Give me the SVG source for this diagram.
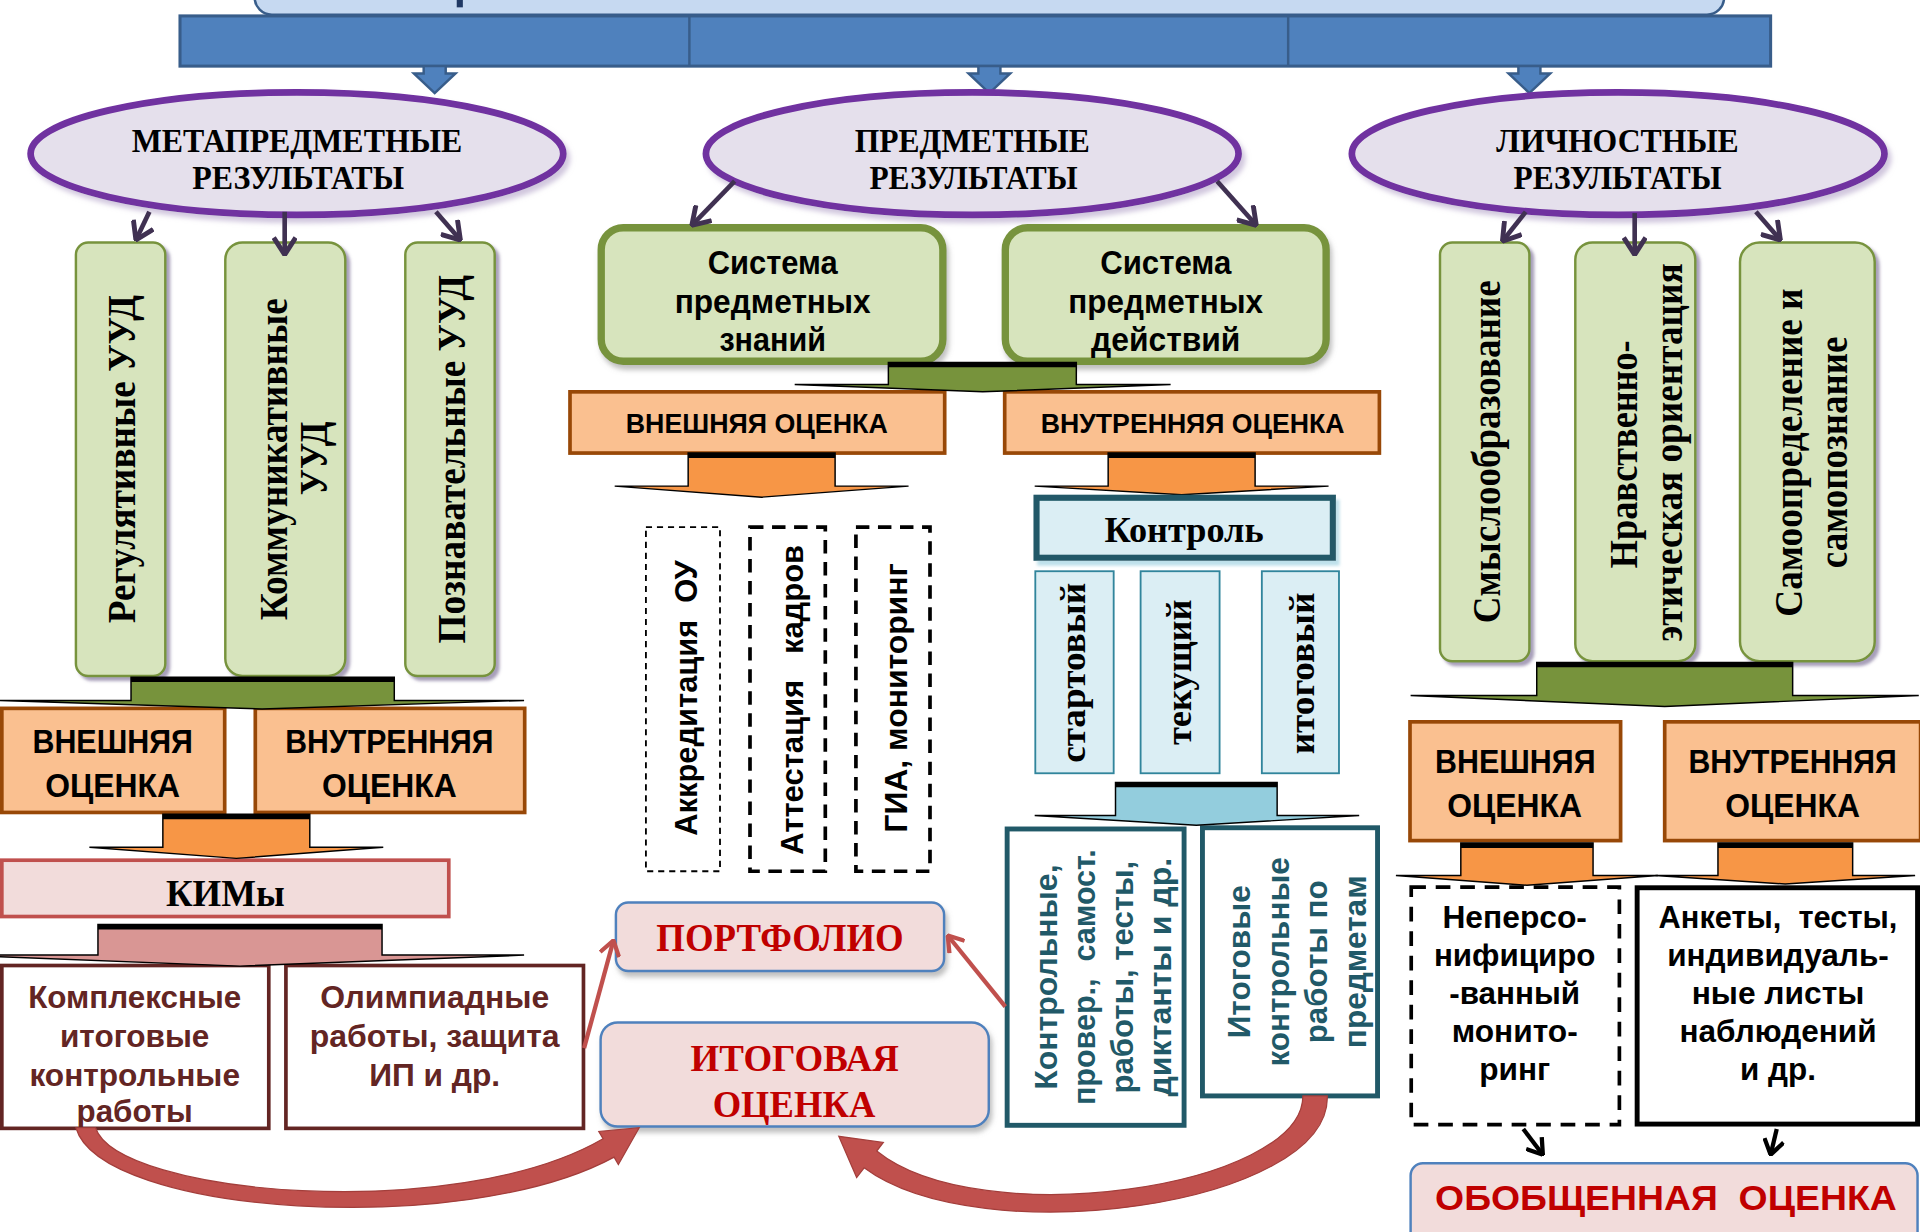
<svg xmlns="http://www.w3.org/2000/svg" width="1920" height="1232" viewBox="0 0 1920 1232">
<defs>
<style>
.serif{font-family:"Liberation Serif","Times New Roman",serif;font-weight:bold}
.sans{font-family:"Liberation Sans",Arial,sans-serif;font-weight:bold}
.ell{fill:#e5e0ec;stroke:#7030a0;stroke-width:5.5}
.gv{fill:#d7e4bd;stroke:#77933c;stroke-width:2}
.gs{fill:#d7e4bd;stroke:#77933c;stroke-width:6}
.or{fill:#fac090;stroke:#984807;stroke-width:3}
.ba{stroke:#000;stroke-width:1.2}
.top{stroke:#000;stroke-width:4}
.pc{stroke:#403152;stroke-width:3.8;fill:none;marker-end:url(#mp)}
.rc{stroke:#c0504d;stroke-width:3.5;fill:none;marker-end:url(#mr)}
.kc{stroke:#000;stroke-width:3.5;fill:none;marker-end:url(#mk)}
.br{fill:#fff;stroke:#632523;stroke-width:3}
.brt{fill:#632523}
.tl{fill:#fff;stroke:#215968;stroke-width:4}
.tlt{fill:#215968}
.sm{fill:#dbeef4;stroke:#31859c;stroke-width:1.5}
.pk{fill:#f2dcdb;stroke:#4f81bd;stroke-width:2}
.red{fill:#c00000}
.pre{white-space:pre}
</style>
<marker id="mp" viewBox="0 0 16 20" refX="15" refY="10" markerWidth="16" markerHeight="20" markerUnits="userSpaceOnUse" orient="auto"><path d="M1,1 L15,10 L1,19" fill="none" stroke="#403152" stroke-width="4"/></marker>
<marker id="mr" viewBox="0 0 14 18" refX="13" refY="9" markerWidth="14" markerHeight="18" markerUnits="userSpaceOnUse" orient="auto"><path d="M1,1 L13,9 L1,17" fill="none" stroke="#c0504d" stroke-width="3.5"/></marker>
<marker id="mk" viewBox="0 0 14 18" refX="13" refY="9" markerWidth="14" markerHeight="18" markerUnits="userSpaceOnUse" orient="auto"><path d="M1,1 L13,9 L1,17" fill="none" stroke="#000" stroke-width="3.5"/></marker>
<filter id="shG" x="-20%" y="-10%" width="140%" height="120%"><feDropShadow dx="3" dy="3" stdDeviation="1.2" flood-color="#5f4f80" flood-opacity="0.55"/></filter>
<filter id="shE" x="-10%" y="-20%" width="120%" height="140%"><feDropShadow dx="3" dy="4" stdDeviation="2" flood-color="#b2a1c7" flood-opacity="0.6"/></filter>
<filter id="shB" x="-10%" y="-20%" width="120%" height="140%"><feDropShadow dx="2" dy="4" stdDeviation="2" flood-color="#808080" flood-opacity="0.5"/></filter>
<filter id="shC" x="-10%" y="-20%" width="120%" height="150%"><feDropShadow dx="3" dy="4" stdDeviation="1.5" flood-color="#b7dde8" flood-opacity="0.9"/></filter>
</defs>
<rect width="1920" height="1232" fill="#fff"/>
<g transform="scale(1.22449)">

<g id="title">
<rect x="208" y="-30" width="1200" height="42" rx="14" fill="#c6d9f1" stroke="#385d8a" stroke-width="2"/>
<rect x="373" y="0" width="5" height="6" fill="#1f3864"/>
</g>

<g id="bar">
<rect x="147" y="13" width="1299" height="41" fill="#4f81bd" stroke="#385d8a" stroke-width="2.5"/>
<line x1="563" y1="13" x2="563" y2="54" stroke="#385d8a" stroke-width="2"/>
<line x1="1052" y1="13" x2="1052" y2="54" stroke="#385d8a" stroke-width="2"/>
<polygon points="346,54 364,54 364,60 372,60 355,76 338,60 346,60" fill="#4f81bd" stroke="#385d8a" stroke-width="2"/>
<polygon points="799,54 817,54 817,60 825,60 808,76 791,60 799,60" fill="#4f81bd" stroke="#385d8a" stroke-width="2"/>
<polygon points="1240,54 1258,54 1258,60 1266,60 1249,76 1232,60 1240,60" fill="#4f81bd" stroke="#385d8a" stroke-width="2"/>
</g>

<g id="ell-meta">
<ellipse cx="242.5" cy="125.5" rx="217.5" ry="50" class="ell" filter="url(#shE)"/>
<text x="242.5" y="124" text-anchor="middle" class="serif" font-size="28" textLength="270" lengthAdjust="spacingAndGlyphs">МЕТАПРЕДМЕТНЫЕ</text>
<text x="243.5" y="154" text-anchor="middle" class="serif" font-size="28" textLength="173" lengthAdjust="spacingAndGlyphs">РЕЗУЛЬТАТЫ</text>
</g>
<g id="ell-pred">
<ellipse cx="794" cy="125.5" rx="217.5" ry="50" class="ell" filter="url(#shE)"/>
<text x="794" y="124" text-anchor="middle" class="serif" font-size="28" textLength="192" lengthAdjust="spacingAndGlyphs">ПРЕДМЕТНЫЕ</text>
<text x="795" y="154" text-anchor="middle" class="serif" font-size="28" textLength="170" lengthAdjust="spacingAndGlyphs">РЕЗУЛЬТАТЫ</text>
</g>
<g id="ell-lich">
<ellipse cx="1321.5" cy="125.5" rx="217.5" ry="50" class="ell" filter="url(#shE)"/>
<text x="1321" y="124" text-anchor="middle" class="serif" font-size="28" textLength="198" lengthAdjust="spacingAndGlyphs">ЛИЧНОСТНЫЕ</text>
<text x="1321" y="154" text-anchor="middle" class="serif" font-size="28" textLength="170" lengthAdjust="spacingAndGlyphs">РЕЗУЛЬТАТЫ</text>
</g>

<g id="reg-uud">
<rect x="62" y="198" width="73" height="354" rx="10" class="gv" filter="url(#shG)"/>
<text transform="translate(110.3,375) rotate(-90)" text-anchor="middle" class="serif" font-size="32" textLength="268" lengthAdjust="spacingAndGlyphs">Регулятивные УУД</text>
</g>
<g id="kom-uud">
<rect x="184" y="198" width="98" height="354" rx="14" class="gv" filter="url(#shG)"/>
<text transform="translate(234,375) rotate(-90)" text-anchor="middle" class="serif" font-size="32" textLength="263" lengthAdjust="spacingAndGlyphs">Коммуникативные</text>
<text transform="translate(267,374.4) rotate(-90)" text-anchor="middle" class="serif" font-size="32" textLength="60" lengthAdjust="spacingAndGlyphs">УУД</text>
</g>
<g id="pozn-uud">
<rect x="331" y="198" width="73" height="354" rx="10" class="gv" filter="url(#shG)"/>
<text transform="translate(380,375) rotate(-90)" text-anchor="middle" class="serif" font-size="32" textLength="301" lengthAdjust="spacingAndGlyphs">Познавательные УУД</text>
</g>

<g id="left-ext">
<rect x="1.5" y="578.5" width="182" height="85" class="or"/>
<text x="92" y="615" text-anchor="middle" class="sans" font-size="27" textLength="131" lengthAdjust="spacingAndGlyphs">ВНЕШНЯЯ</text>
<text x="92" y="651" text-anchor="middle" class="sans" font-size="27" textLength="110" lengthAdjust="spacingAndGlyphs">ОЦЕНКА</text>
</g>
<g id="left-int">
<rect x="208.5" y="578.5" width="220" height="85" class="or"/>
<text x="318" y="615" text-anchor="middle" class="sans" font-size="27" textLength="170" lengthAdjust="spacingAndGlyphs">ВНУТРЕННЯЯ</text>
<text x="318" y="651" text-anchor="middle" class="sans" font-size="27" textLength="110" lengthAdjust="spacingAndGlyphs">ОЦЕНКА</text>
</g>
<g id="kim">
<rect x="1.5" y="702.5" width="365" height="46" fill="#f2dcdb" stroke="#c0504d" stroke-width="3"/>
<text x="184" y="740" text-anchor="middle" class="serif" font-size="31" textLength="97" lengthAdjust="spacingAndGlyphs">КИМы</text>
</g>
<g id="kompleks">
<rect x="1.5" y="788.5" width="218" height="133" class="br"/>
<text x="110" y="823" text-anchor="middle" class="sans brt" font-size="26" textLength="174" lengthAdjust="spacingAndGlyphs">Комплексные</text>
<text x="110" y="855" text-anchor="middle" class="sans brt" font-size="26" textLength="122" lengthAdjust="spacingAndGlyphs">итоговые</text>
<text x="110" y="887" text-anchor="middle" class="sans brt" font-size="26" textLength="172" lengthAdjust="spacingAndGlyphs">контрольные</text>
<text x="110" y="916" text-anchor="middle" class="sans brt" font-size="26" textLength="95" lengthAdjust="spacingAndGlyphs">работы</text>
</g>
<g id="olimp">
<rect x="233.5" y="788.5" width="243" height="133" class="br"/>
<text x="355" y="823" text-anchor="middle" class="sans brt" font-size="26" textLength="187" lengthAdjust="spacingAndGlyphs">Олимпиадные</text>
<text x="355" y="855" text-anchor="middle" class="sans brt" font-size="26" textLength="204" lengthAdjust="spacingAndGlyphs">работы, защита</text>
<text x="355" y="887" text-anchor="middle" class="sans brt" font-size="26" textLength="107" lengthAdjust="spacingAndGlyphs">ИП и др.</text>
</g>

<g id="sys-znan">
<rect x="491" y="186" width="279" height="109" rx="18" class="gs" filter="url(#shB)"/>
<text x="631" y="224" text-anchor="middle" class="sans" font-size="26.5" textLength="106" lengthAdjust="spacingAndGlyphs">Система</text>
<text x="631" y="256" text-anchor="middle" class="sans" font-size="26.5" textLength="160" lengthAdjust="spacingAndGlyphs">предметных</text>
<text x="631" y="287" text-anchor="middle" class="sans" font-size="26.5" textLength="87" lengthAdjust="spacingAndGlyphs">знаний</text>
</g>
<g id="sys-deist">
<rect x="821" y="186" width="262" height="109" rx="18" class="gs" filter="url(#shB)"/>
<text x="952" y="224" text-anchor="middle" class="sans" font-size="26.5" textLength="107" lengthAdjust="spacingAndGlyphs">Система</text>
<text x="952" y="256" text-anchor="middle" class="sans" font-size="26.5" textLength="159" lengthAdjust="spacingAndGlyphs">предметных</text>
<text x="952" y="287" text-anchor="middle" class="sans" font-size="26.5" textLength="122" lengthAdjust="spacingAndGlyphs">действий</text>
</g>
<g id="mid-ext">
<rect x="465.5" y="320" width="306" height="50" class="or"/>
<text x="618" y="354" text-anchor="middle" class="sans" font-size="23" textLength="214" lengthAdjust="spacingAndGlyphs">ВНЕШНЯЯ ОЦЕНКА</text>
</g>
<g id="mid-int">
<rect x="820.5" y="320" width="306" height="50" class="or"/>
<text x="974" y="354" text-anchor="middle" class="sans" font-size="23" textLength="248" lengthAdjust="spacingAndGlyphs">ВНУТРЕННЯЯ ОЦЕНКА</text>
</g>
<g id="akkred">
<rect x="527.5" y="430.5" width="60.5" height="281" fill="none" stroke="#000" stroke-width="1.5" stroke-dasharray="5 4"/>
<text transform="translate(569,570) rotate(-90)" text-anchor="middle" class="sans pre" font-size="26" textLength="225" lengthAdjust="spacingAndGlyphs">Аккредитация  ОУ</text>
</g>
<g id="attest">
<rect x="612.5" y="430.5" width="61.5" height="281" fill="none" stroke="#000" stroke-width="3" stroke-dasharray="11 7"/>
<text transform="translate(656,571.5) rotate(-90)" text-anchor="middle" class="sans pre" font-size="26" textLength="253" lengthAdjust="spacingAndGlyphs">Аттестация   кадров</text>
</g>
<g id="gia">
<rect x="699" y="430.5" width="60.5" height="281" fill="none" stroke="#000" stroke-width="3" stroke-dasharray="11 7"/>
<text transform="translate(741,570) rotate(-90)" text-anchor="middle" class="sans" font-size="26" textLength="220" lengthAdjust="spacingAndGlyphs">ГИА, мониторинг</text>
</g>
<g id="portfolio">
<rect x="503" y="737" width="268" height="56" rx="10" class="pk" filter="url(#shB)"/>
<text x="637" y="777" text-anchor="middle" class="serif red" font-size="33" textLength="202" lengthAdjust="spacingAndGlyphs">ПОРТФОЛИО</text>
</g>
<g id="itog">
<rect x="490.5" y="835" width="317" height="85" rx="14" class="pk" filter="url(#shB)"/>
<text x="649" y="875" text-anchor="middle" class="serif red" font-size="31" textLength="170" lengthAdjust="spacingAndGlyphs">ИТОГОВАЯ</text>
<text x="648.5" y="912" text-anchor="middle" class="serif red" font-size="31" textLength="133" lengthAdjust="spacingAndGlyphs">ОЦЕНКА</text>
</g>

<g id="arrow-under-kontrol">
<polygon points="905,370 1025,370 1025,397 1085,397 965,404 845,397 905,397" fill="#f79646" class="ba"/>
<line x1="905" y1="372" x2="1025" y2="372" class="top"/>
</g>

<g id="kontrol">
<rect x="846.5" y="406.5" width="242" height="49" fill="#dbeef4" stroke="#215968" stroke-width="5" filter="url(#shC)"/>
<text x="967" y="442.5" text-anchor="middle" class="serif" font-size="30" textLength="130" lengthAdjust="spacingAndGlyphs">Контроль</text>
</g>
<g id="start">
<rect x="845.5" y="466.5" width="64" height="165" class="sm"/>
<text transform="translate(886,549.5) rotate(-90)" text-anchor="middle" class="serif" font-size="29" textLength="147" lengthAdjust="spacingAndGlyphs">стартовый</text>
</g>
<g id="tekush">
<rect x="931.5" y="466.5" width="64.5" height="165" class="sm"/>
<text transform="translate(973,549) rotate(-90)" text-anchor="middle" class="serif" font-size="29" textLength="119" lengthAdjust="spacingAndGlyphs">текущий</text>
</g>
<g id="itogov">
<rect x="1030.5" y="466.5" width="63" height="165" class="sm"/>
<text transform="translate(1073,550) rotate(-90)" text-anchor="middle" class="serif" font-size="29" textLength="132" lengthAdjust="spacingAndGlyphs">итоговый</text>
</g>
<g id="kontr-raboty">
<rect x="822.5" y="677" width="144.5" height="242" class="tl"/>
<text transform="translate(863,798) rotate(-90)" text-anchor="middle" class="sans tlt" font-size="25.5" textLength="184" lengthAdjust="spacingAndGlyphs">Контрольные,</text>
<text transform="translate(894,798) rotate(-90)" text-anchor="middle" class="sans tlt pre" font-size="25.5" textLength="209" lengthAdjust="spacingAndGlyphs">провер.,  самост.</text>
<text transform="translate(925,798) rotate(-90)" text-anchor="middle" class="sans tlt" font-size="25.5" textLength="190" lengthAdjust="spacingAndGlyphs">работы, тесты,</text>
<text transform="translate(956,798) rotate(-90)" text-anchor="middle" class="sans tlt" font-size="25.5" textLength="195" lengthAdjust="spacingAndGlyphs">диктанты и др.</text>
</g>
<g id="itog-raboty">
<rect x="982" y="676" width="143" height="219" class="tl"/>
<text transform="translate(1021,785.5) rotate(-90)" text-anchor="middle" class="sans tlt" font-size="25.5" textLength="125" lengthAdjust="spacingAndGlyphs">Итоговые</text>
<text transform="translate(1052.5,785.5) rotate(-90)" text-anchor="middle" class="sans tlt" font-size="25.5" textLength="171" lengthAdjust="spacingAndGlyphs">контрольные</text>
<text transform="translate(1084,785.5) rotate(-90)" text-anchor="middle" class="sans tlt" font-size="25.5" textLength="133" lengthAdjust="spacingAndGlyphs">работы по</text>
<text transform="translate(1115.5,785.5) rotate(-90)" text-anchor="middle" class="sans tlt" font-size="25.5" textLength="141" lengthAdjust="spacingAndGlyphs">предметам</text>
</g>

<g id="smysl">
<rect x="1176" y="198" width="73" height="342" rx="10" class="gv" filter="url(#shG)"/>
<text transform="translate(1225,369) rotate(-90)" text-anchor="middle" class="serif" font-size="32" textLength="280" lengthAdjust="spacingAndGlyphs">Смыслообразование</text>
</g>
<g id="nravst">
<rect x="1286.5" y="198" width="98" height="342" rx="14" class="gv" filter="url(#shG)"/>
<text transform="translate(1336.6,371) rotate(-90)" text-anchor="middle" class="serif" font-size="32" textLength="186" lengthAdjust="spacingAndGlyphs">Нравственно-</text>
<text transform="translate(1373.4,369.6) rotate(-90)" text-anchor="middle" class="serif" font-size="32" textLength="309" lengthAdjust="spacingAndGlyphs">этическая ориентация</text>
</g>
<g id="samoopr">
<rect x="1421" y="198" width="110" height="342" rx="16" class="gv" filter="url(#shG)"/>
<text transform="translate(1472,369.6) rotate(-90)" text-anchor="middle" class="serif" font-size="32" textLength="268" lengthAdjust="spacingAndGlyphs">Самоопределение и</text>
<text transform="translate(1508,369.5) rotate(-90)" text-anchor="middle" class="serif" font-size="32" textLength="189" lengthAdjust="spacingAndGlyphs">самопознание</text>
</g>
<g id="right-ext">
<rect x="1151.5" y="589.5" width="172" height="97" class="or"/>
<text x="1237.5" y="631" text-anchor="middle" class="sans" font-size="27" textLength="131" lengthAdjust="spacingAndGlyphs">ВНЕШНЯЯ</text>
<text x="1237" y="667" text-anchor="middle" class="sans" font-size="27" textLength="110" lengthAdjust="spacingAndGlyphs">ОЦЕНКА</text>
</g>
<g id="right-int">
<rect x="1359.5" y="589.5" width="209" height="97" class="or"/>
<text x="1464" y="631" text-anchor="middle" class="sans" font-size="27" textLength="170" lengthAdjust="spacingAndGlyphs">ВНУТРЕННЯЯ</text>
<text x="1464" y="667" text-anchor="middle" class="sans" font-size="27" textLength="110" lengthAdjust="spacingAndGlyphs">ОЦЕНКА</text>
</g>
<g id="nepers">
<rect x="1152.5" y="724.5" width="170" height="194" fill="#fff" stroke="#000" stroke-width="3" stroke-dasharray="12 8"/>
<text x="1237" y="757.5" text-anchor="middle" class="sans" font-size="26" textLength="118" lengthAdjust="spacingAndGlyphs">Неперсо-</text>
<text x="1237" y="788.5" text-anchor="middle" class="sans" font-size="26" textLength="132" lengthAdjust="spacingAndGlyphs">нифициро</text>
<text x="1237" y="820" text-anchor="middle" class="sans" font-size="26" textLength="107" lengthAdjust="spacingAndGlyphs">-ванный</text>
<text x="1237" y="851" text-anchor="middle" class="sans" font-size="26" textLength="103" lengthAdjust="spacingAndGlyphs">монито-</text>
<text x="1237" y="882" text-anchor="middle" class="sans" font-size="26" textLength="58" lengthAdjust="spacingAndGlyphs">ринг</text>
</g>
<g id="ankety">
<rect x="1337" y="725" width="229" height="193" fill="#fff" stroke="#000" stroke-width="4"/>
<text x="1452" y="757.5" text-anchor="middle" class="sans pre" font-size="26" textLength="195" lengthAdjust="spacingAndGlyphs">Анкеты,  тесты,</text>
<text x="1452" y="788.5" text-anchor="middle" class="sans" font-size="26" textLength="181" lengthAdjust="spacingAndGlyphs">индивидуаль-</text>
<text x="1452" y="820" text-anchor="middle" class="sans" font-size="26" textLength="141" lengthAdjust="spacingAndGlyphs">ные листы</text>
<text x="1452" y="851" text-anchor="middle" class="sans" font-size="26" textLength="161" lengthAdjust="spacingAndGlyphs">наблюдений</text>
<text x="1452" y="882" text-anchor="middle" class="sans" font-size="26" textLength="62" lengthAdjust="spacingAndGlyphs">и др.</text>
</g>
<g id="obobsh">
<rect x="1152" y="950" width="414" height="70" rx="10" class="pk"/>
<text x="1360.5" y="988" text-anchor="middle" class="sans red pre" font-size="29" textLength="377" lengthAdjust="spacingAndGlyphs">ОБОБЩЕННАЯ  ОЦЕНКА</text>
</g>

<g id="connectors">
<polygon points="107,553 322,553 322,572 428,572 214,579 0,572 107,572" fill="#77933c" class="ba"/>
<line x1="107" y1="555" x2="322" y2="555" class="top"/>
<polygon points="133,665 253,665 253,692 313,692 193,701 73,692 133,692" fill="#f79646" class="ba"/>
<line x1="133" y1="667" x2="253" y2="667" class="top"/>
<polygon points="80,755 312,755 312,780 428,780 196,789 -36,780 80,780" fill="#d99694" class="ba"/>
<line x1="80" y1="757" x2="312" y2="757" class="top"/>
<polygon points="725.5,296 879,296 879,314 956,314 802.5,320 649,314 725.5,314" fill="#77933c" class="ba"/>
<line x1="725.5" y1="298" x2="879" y2="298" class="top"/>
<polygon points="562,370 682,370 682,397 742,397 622,406 502,397 562,397" fill="#f79646" class="ba"/>
<line x1="562" y1="372" x2="682" y2="372" class="top"/>
<polygon points="911,639 1043,639 1043,666 1110,666 977,674 845,666 911,666" fill="#93cddd" class="ba"/>
<line x1="911" y1="641" x2="1043" y2="641" class="top"/>
<polygon points="1255,541 1464,541 1464,568 1567,568 1359.5,577 1152,568 1255,568" fill="#77933c" class="ba"/>
<line x1="1255" y1="543" x2="1464" y2="543" class="top"/>
<polygon points="1193,688.5 1301,688.5 1301,715 1354,715 1247,723 1140,715 1193,715" fill="#f79646" class="ba"/>
<line x1="1193" y1="690.5" x2="1301" y2="690.5" class="top"/>
<polygon points="1403,688.5 1513,688.5 1513,715 1564,715 1458,722 1352,715 1403,715" fill="#f79646" class="ba"/>
<line x1="1403" y1="690.5" x2="1513" y2="690.5" class="top"/>

<line x1="122" y1="173" x2="111" y2="196" class="pc"/>
<line x1="232.5" y1="173" x2="232.5" y2="208" class="pc"/>
<line x1="356" y1="173" x2="376" y2="196" class="pc"/>
<line x1="600" y1="148" x2="565" y2="184" class="pc"/>
<line x1="994" y1="148" x2="1026" y2="184" class="pc"/>
<line x1="1246" y1="173" x2="1227" y2="197" class="pc"/>
<line x1="1335" y1="174" x2="1335" y2="208" class="pc"/>
<line x1="1434" y1="173" x2="1454" y2="196" class="pc"/>

<line x1="477" y1="856" x2="501" y2="768" class="rc"/>
<line x1="821" y1="822" x2="774" y2="764" class="rc"/>
<line x1="1244" y1="922" x2="1260" y2="943" class="kc"/>
<line x1="1451" y1="922" x2="1446" y2="943" class="kc"/>

<path d="M78,921 C96,976 372,1000 492.5,930 L489,924 L522,921 L505,951 L501.5,945 C378,1012 82,992 62,921 Z" fill="#c0504d" stroke="#a33e3b" stroke-width="1"/>
<path d="M1064,895 C1064,970 800,1008 716,940 L721.4,933 L685,928 L699.6,961.7 L705.7,953.7 C800,1024 1086,985 1084,895 Z" fill="#c0504d" stroke="#a33e3b" stroke-width="1"/>
</g>
</g>
</svg>
